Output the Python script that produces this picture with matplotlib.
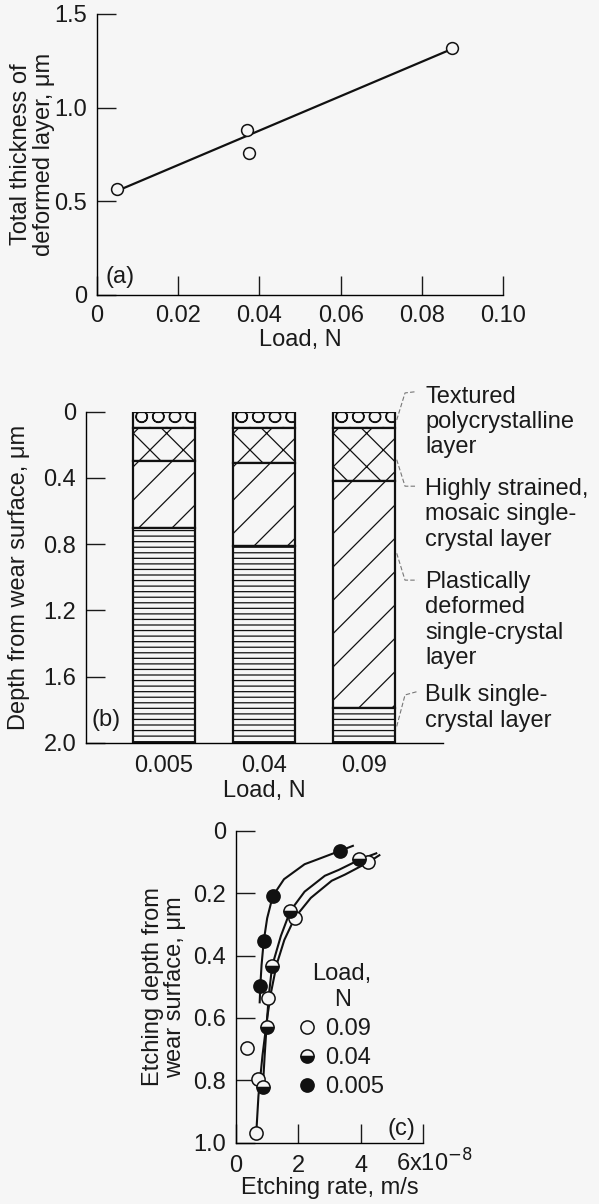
import matplotlib.pyplot as plt
from matplotlib.transforms import ScaledTranslation

plt.rcParams['font.family'] = ['Liberation Sans', 'DejaVu Sans']
plt.rcParams['font.size'] = 17
plt.rcParams['text.color'] = '#1a1a1a'
plt.rcParams['axes.labelcolor'] = '#1a1a1a'
plt.rcParams['xtick.color'] = '#1a1a1a'
plt.rcParams['ytick.color'] = '#1a1a1a'
plt.rcParams['hatch.linewidth'] = 0.9
plt.rcParams['axes.linewidth'] = 1.0

BG = '#f6f6f6'

# (a) total thickness of deformed layer vs. load
load_a = [0.005, 0.037, 0.0375, 0.0875]
thick_a = [0.565, 0.88, 0.76, 1.32]
fit_load = [0.0065, 0.0865]
fit_thick = [0.57, 1.305]

# (b) layer depths for each load
loads_b = ['0.005', '0.04', '0.09']
textured = [0.10, 0.10, 0.10]
mosaic = [0.20, 0.21, 0.32]
plastic = [0.40, 0.50, 1.37]
bulk = [1.30, 1.19, 0.21]
layer_names = ['Textured\npolycrystalline\nlayer',
               'Highly strained,\nmosaic single-\ncrystal layer',
               'Plastically\ndeformed\nsingle-crystal\nlayer',
               'Bulk single-\ncrystal layer']

# (c) etching rate (1e-8 m/s) vs. etching depth (um)
rate_009 = [4.24, 1.89, 1.04, 0.36, 0.69, 0.64]
depth_009 = [0.10, 0.278, 0.535, 0.698, 0.797, 0.97]
rate_004 = [3.95, 1.74, 1.16, 0.98, 0.86]
depth_004 = [0.091, 0.257, 0.433, 0.628, 0.823]
rate_0005 = [3.34, 1.18, 0.89, 0.78]
depth_0005 = [0.064, 0.209, 0.353, 0.497]

# hand-drawn curves through each series
curve_009_x = [4.6, 4.26, 3.5, 3.07, 2.4, 1.89, 1.55, 1.3, 1.12, 1.0, 0.85, 0.72, 0.65]
curve_009_y = [0.078, 0.10, 0.14, 0.16, 0.215, 0.278, 0.35, 0.43, 0.52, 0.60, 0.72, 0.85, 0.97]
curve_004_x = [4.5, 3.99, 3.3, 2.85, 2.2, 1.74, 1.44, 1.16, 1.05, 0.98, 0.92, 0.86]
curve_004_y = [0.072, 0.091, 0.125, 0.144, 0.195, 0.257, 0.337, 0.433, 0.53, 0.628, 0.72, 0.823]
curve_0005_x = [3.75, 3.34, 2.6, 2.2, 1.54, 1.18, 1.0, 0.89, 0.82, 0.78, 0.76]
curve_0005_y = [0.048, 0.064, 0.092, 0.107, 0.155, 0.209, 0.28, 0.353, 0.43, 0.497, 0.55]

fig = plt.figure(figsize=(5.99, 12.04), dpi=100, facecolor=BG)


def style_axes(ax):
    ax.set_facecolor(BG)
    ax.spines['top'].set_visible(False)
    ax.spines['right'].set_visible(False)
    ax.tick_params(direction='in', length=14, width=1.0, pad=7)


def place_ylabel(ax, xpos):
    ax.yaxis.set_label_coords(xpos, 0.5)
    ax.yaxis.label.set_va('center')


# ---------- (a) ----------
ax1 = fig.add_axes([0.162, 0.755, 0.678, 0.2334])
style_axes(ax1)
ax1.plot(fit_load, fit_thick, color='#111', lw=1.6, zorder=2)
ax1.plot(load_a, thick_a, 'o', ms=8.5, mfc=BG, mec='#111', mew=1.1, zorder=3)
ax1.set_xlim(0, 0.10)
ax1.set_ylim(0, 1.5)
ax1.set_xticks([0, 0.02, 0.04, 0.06, 0.08, 0.10])
ax1.set_xticklabels(['0', '0.02', '0.04', '0.06', '0.08', '0.10'])
ax1.set_yticks([0, 0.5, 1.0, 1.5])
ax1.set_yticklabels(['0', '0.5', '1.0', '1.5'])
ax1.set_xlabel('Load, N', labelpad=2)
ax1.set_ylabel('Total thickness of\ndeformed layer, μm', linespacing=1.05)
place_ylabel(ax1, -0.158)
ax1.text(0.022, 0.064, '(a)', transform=ax1.transAxes, ha='left', va='center')

# ---------- (b) ----------
ax2 = fig.add_axes([0.1436, 0.3829, 0.596, 0.2752])
style_axes(ax2)
x = range(len(loads_b))
tops = [0, 0, 0]
for thick, hatch in zip([textured, mosaic, plastic, bulk], ['O', 'x', '/', '---']):
    ax2.bar(x, thick, bottom=tops, width=0.62, color=BG, edgecolor='#111',
            linewidth=1.6, hatch=hatch, zorder=2)
    tops = [t + h for t, h in zip(tops, thick)]
ax2.set_xlim(-0.78, 2.79)
ax2.set_ylim(2.0, 0)
ax2.set_yticks([0, 0.4, 0.8, 1.2, 1.6, 2.0])
ax2.set_yticklabels(['0', '0.4', '0.8', '1.2', '1.6', '2.0'])
ax2.set_xticks(list(x))
ax2.set_xticklabels(loads_b)
ax2.tick_params(axis='x', length=0, pad=9)
ax2.set_xlabel('Load, N', labelpad=2)
ax2.set_ylabel('Depth from wear surface, μm')
place_ylabel(ax2, -0.188)
ax2.text(0.014, 0.07, '(b)', transform=ax2.transAxes, ha='left', va='center')

# leader lines and layer descriptions to the right of the last bar
leaders = [([2.327, 2.41, 2.51], [0.05, -0.113, -0.12]),
           ([2.327, 2.41, 2.53], [0.29, 0.45, 0.45]),
           ([2.327, 2.41, 2.53], [0.855, 1.017, 1.017]),
           ([2.327, 2.41, 2.53], [1.90, 1.71, 1.69])]
label_y = [0.062, 0.62, 1.257, 1.79]
for (lx, ly), name, ty in zip(leaders, layer_names, label_y):
    ax2.plot(lx, ly, color='#777', lw=0.8, ls=(0, (4, 2)), clip_on=False)
    ax2.text(2.61, ty, name, ha='left', va='center', linespacing=1.2,
             clip_on=False)

# ---------- (c) ----------
ax3 = fig.add_axes([0.394, 0.051, 0.3122, 0.2589])
style_axes(ax3)
for cx, cy in [(curve_009_x, curve_009_y), (curve_004_x, curve_004_y),
               (curve_0005_x, curve_0005_y)]:
    ax3.plot(cx, cy, color='#111', lw=1.5, zorder=2)
h009, = ax3.plot(rate_009, depth_009, 'o', ms=9.5, mfc=BG, mec='#111', mew=1.1,
                 ls='none', zorder=3)
h004, = ax3.plot(rate_004, depth_004, 'o', ms=9.5, fillstyle='bottom', mfc='#111',
                 mfcalt=BG, mec='#111', mew=1.1, ls='none', zorder=3)
h0005, = ax3.plot(rate_0005, depth_0005, 'o', ms=9.5, mfc='#111', mec='#111',
                  mew=1.1, ls='none', zorder=3)
ax3.set_xlim(0, 6)
ax3.set_ylim(1.0, 0)
ax3.set_xticks([0, 2, 4, 6])
ax3.set_xticklabels(['0', '2', '4', '6x10$^{-8}$'])
ax3.set_yticks([0, 0.2, 0.4, 0.6, 0.8, 1.0])
ax3.set_yticklabels(['0', '0.2', '0.4', '0.6', '0.8', '1.0'])
# x tick labels sit on a common baseline so the exponent rises above it
ax3.tick_params(axis='x', pad=21)
for lbl in ax3.get_xticklabels():
    lbl.set_va('baseline')
last = ax3.get_xticklabels()[-1]
last.set_ha('left')
last.set_transform(last.get_transform() + ScaledTranslation(-0.27, 0, fig.dpi_scale_trans))
ax3.set_xlabel('Etching rate, m/s')
ax3.xaxis.set_label_coords(0.5, -0.110)
ax3.xaxis.label.set_va('top')
ax3.set_ylabel('Etching depth from\nwear surface, μm', linespacing=1.05)
place_ylabel(ax3, -0.385)
ax3.text(0.957, 0.044, '(c)', transform=ax3.transAxes, ha='right', va='center')

leg = ax3.legend([h009, h004, h0005], ['0.09', '0.04', '0.005'], title='Load,\nN',
                 loc='upper left', bbox_to_anchor=(0.34, 0.575), frameon=False,
                 borderpad=0, handlelength=0.6, handletextpad=0.5,
                 labelspacing=0.3, fontsize=17, title_fontsize=17, borderaxespad=0)
leg.get_title().set_multialignment('center')
leg.get_title().set_linespacing(1.2)

fig.savefig('out.png', dpi=100, facecolor=BG)
